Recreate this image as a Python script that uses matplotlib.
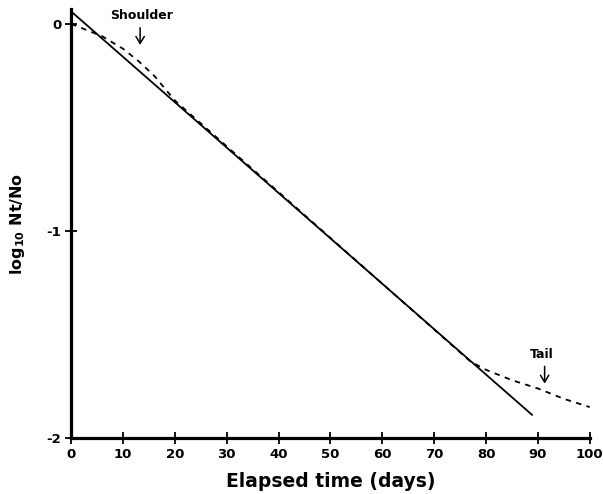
from matplotlib import pyplot as plt

# fitted log-linear line
FIT_X = [0, 89]
FIT_Y = [0.06, -1.89]

# observed curve with shoulder and tail
OBS_X = [0, 3, 6, 10, 13, 16, 20, 77, 80, 85, 90, 95, 100]
OBS_Y = [0.0, -0.03, -0.06, -0.12, -0.18, -0.25, -0.37,
         -1.63, -1.67, -1.72, -1.76, -1.81, -1.85]

X_TICKS = [0, 10, 20, 30, 40, 50, 60, 70, 80, 90, 100]
Y_TICKS = [-2, -1, 0]

plt.rcParams['font.family'] = 'DejaVu Sans'
plt.rcParams['font.weight'] = 'bold'

fig = plt.figure(figsize=(6.03, 4.94), dpi=100)
ax = fig.add_axes([0.118, 0.113, 0.86, 0.868])

ax.plot(FIT_X, FIT_Y, color='black', linewidth=1.3, solid_capstyle='butt')
ax.plot(OBS_X, OBS_Y, color='black', linewidth=1.3, linestyle=(0, (3, 3)))

ax.annotate('', xy=(13.3, -0.115), xytext=(13.3, -0.005),
            arrowprops=dict(arrowstyle='->,head_length=0.5,head_width=0.3',
                            color='black', lw=1.1))
ax.text(13.6, 0.04, 'Shoulder', ha='center', va='center', fontsize=9, fontweight='bold')

ax.annotate('', xy=(91.3, -1.75), xytext=(91.3, -1.64),
            arrowprops=dict(arrowstyle='->,head_length=0.5,head_width=0.3',
                            color='black', lw=1.1))
ax.text(90.7, -1.597, 'Tail', ha='center', va='center', fontsize=9, fontweight='bold')

ax.set_xlim(0, 100)
ax.set_ylim(-2, 0.07)
ax.set_xticks(X_TICKS)
ax.set_yticks(Y_TICKS)
ax.set_yticklabels(['-2', '-1', '0'])

for side in ['top', 'right']:
    ax.spines[side].set_visible(False)
for side in ['left', 'bottom']:
    ax.spines[side].set_linewidth(2.3)

ax.tick_params(direction='inout', length=8, width=1.3, labelsize=9.5, pad=3)
for lab in ax.get_xticklabels() + ax.get_yticklabels():
    lab.set_fontweight('bold')

ax.set_xlabel('Elapsed time (days)', fontsize=13.5, fontweight='bold', labelpad=8)
ax.set_ylabel(r'log$_{\mathbf{10}}$ Nt/No', fontsize=11.5, fontweight='bold', labelpad=14)

plt.savefig('out.png', dpi=100)
